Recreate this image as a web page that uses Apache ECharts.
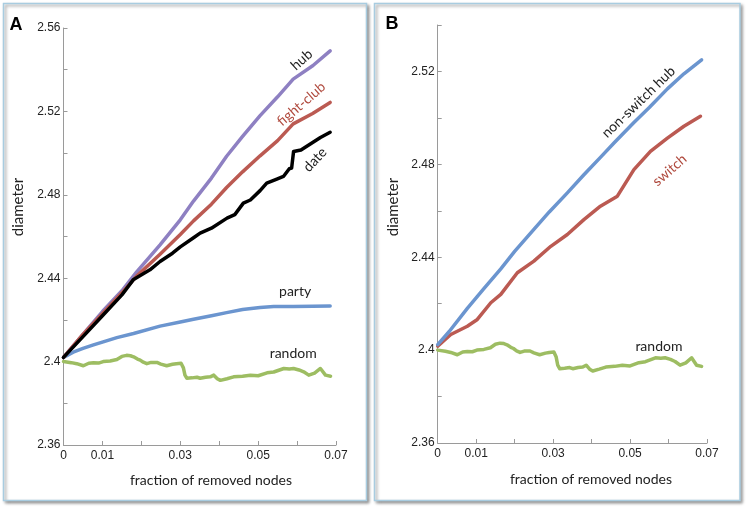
<!DOCTYPE html>
<html>
<head>
<meta charset="utf-8">
<script src="https://cdn.jsdelivr.net/npm/echarts@6/dist/echarts.min.js"></script>
<style>
html,body{margin:0;padding:0;background:#fff;}
#c{width:747px;height:510px;}
</style>
</head>
<body>
<div id="c"></div>
<script>
// ---- Panel A data: [fraction of removed nodes, diameter] ----
const hubA = [[0,2.402],[0.005,2.413],[0.01,2.424],[0.015,2.434],[0.0188,2.443],[0.0248,2.456],[0.03,2.468],[0.0334,2.477],[0.038,2.488],[0.0419,2.4985],[0.046,2.508],[0.0505,2.518],[0.055,2.527],[0.059,2.5355],[0.0641,2.542],[0.0685,2.549]];
const fightClubA = [[0,2.402],[0.005,2.413],[0.01,2.423],[0.015,2.433],[0.0188,2.441],[0.0248,2.4515],[0.03,2.461],[0.0334,2.4675],[0.038,2.4755],[0.0419,2.4835],[0.046,2.491],[0.0505,2.4987],[0.055,2.506],[0.059,2.514],[0.064,2.519],[0.0685,2.5243]];
const dateA = [[0,2.402],[0.005,2.412],[0.01,2.422],[0.015,2.432],[0.0179,2.4392],[0.0222,2.444],[0.0248,2.448],[0.028,2.452],[0.03,2.455],[0.0335,2.4595],[0.0351,2.4616],[0.038,2.464],[0.042,2.4688],[0.044,2.4705],[0.0462,2.476],[0.048,2.4775],[0.0505,2.482],[0.0522,2.4856],[0.0548,2.4875],[0.0565,2.4888],[0.058,2.4925],[0.0586,2.4928],[0.0591,2.5008],[0.061,2.5015],[0.0635,2.5045],[0.066,2.5075],[0.0685,2.51]];
const partyA = [[0,2.402],[0.0025,2.4045],[0.005,2.4063],[0.0077,2.408],[0.0102,2.4095],[0.0137,2.4115],[0.018,2.4135],[0.0248,2.417],[0.03,2.419],[0.0334,2.4203],[0.038,2.422],[0.0419,2.4235],[0.046,2.425],[0.0505,2.426],[0.054,2.4264],[0.059,2.4264],[0.064,2.4266],[0.0685,2.4267]];
const randomA = [[0,2.4],[0.002,2.3995],[0.0034,2.399],[0.0051,2.398],[0.0065,2.3992],[0.0077,2.3994],[0.009,2.3993],[0.0102,2.4],[0.012,2.4003],[0.0137,2.401],[0.015,2.4025],[0.0162,2.403],[0.0172,2.4028],[0.018,2.4023],[0.019,2.4012],[0.0197,2.4007],[0.0205,2.3997],[0.0214,2.399],[0.0225,2.3996],[0.024,2.3996],[0.025,2.3988],[0.0265,2.398],[0.028,2.3987],[0.029,2.399],[0.0302,2.3992],[0.0308,2.397],[0.0312,2.3935],[0.0317,2.392],[0.033,2.3922],[0.0343,2.3925],[0.0351,2.392],[0.0365,2.3925],[0.0377,2.3927],[0.0386,2.3935],[0.0395,2.3918],[0.0403,2.391],[0.042,2.3918],[0.0437,2.3927],[0.046,2.393],[0.048,2.3935],[0.05,2.3932],[0.0523,2.3946],[0.054,2.395],[0.0566,2.3967],[0.058,2.3965],[0.0591,2.3967],[0.0605,2.396],[0.0617,2.3951],[0.063,2.3935],[0.0645,2.3945],[0.066,2.3967],[0.0673,2.3935],[0.0686,2.393]];

// ---- Panel B data ----
const nonSwitchHubB = [[0,2.4024],[0.003,2.408],[0.0077,2.418],[0.012,2.4265],[0.0164,2.435],[0.02,2.4425],[0.025,2.452],[0.029,2.4595],[0.0337,2.4677],[0.038,2.4755],[0.0423,2.483],[0.046,2.4895],[0.051,2.498],[0.055,2.5045],[0.0597,2.5125],[0.064,2.519],[0.0686,2.525]];
const switchB = [[0,2.4017],[0.0034,2.4067],[0.0077,2.4103],[0.0103,2.4132],[0.0138,2.4204],[0.0164,2.424],[0.0207,2.4333],[0.025,2.4383],[0.0294,2.4447],[0.0337,2.4498],[0.038,2.4562],[0.0423,2.462],[0.0467,2.4663],[0.051,2.4777],[0.0553,2.4856],[0.0597,2.4913],[0.064,2.4964],[0.0683,2.5007]];
const randomB = randomA;

// ---- Axis ticks ----
const xLabeledTicks = [0, 1, 3, 5, 7];           // in hundredths
const yLabelStep = 4;                              // labelled every 0.04 from 2.36
const yMinA = 2.36, yMaxA = 2.56, yMinB = 2.36, yMaxB = 2.54;
const xMax = 0.07;

// ---- Annotations [grid, text, x, y, rotationDeg, color] ----
const notes = [
  [0, 'hub',          0.0612, 2.5448, 42, '#222'],
  [0, 'fight-club',   0.0611, 2.5235, 41, '#b04a3e'],
  [0, 'date',         0.0646, 2.4968, 47, '#222'],
  [0, 'party',        0.0595, 2.4336, 0,  '#222'],
  [0, 'random',       0.059,  2.404,  0,  '#222'],
  [1, 'non-switch hub', 0.0522, 2.5068, 44, '#222'],
  [1, 'switch',       0.0603, 2.4775, 41, '#b04a3e'],
  [1, 'random',       0.0575, 2.4017, 0,  '#222']
];

const C = {hub:'#8e80c2', fight:'#bb5a52', date:'#000000', party:'#6b95cf', random:'#9dbd62'};
const axisGray = '#9a9a9a';
const tickFont = {fontFamily:'Liberation Sans', fontSize:12, color:'#222'};

function xAxisCfg(gi){
  return {
    type:'value', gridIndex:gi, min:0, max:xMax, interval:0.01,
    axisLine:{show:true, onZero:false, lineStyle:{color:axisGray, width:1}},
    axisTick:{show:true, inside:true, length:4, lineStyle:{color:axisGray}},
    splitLine:{show:false},
    axisLabel:Object.assign({margin:5, showMinLabel:true, showMaxLabel:true,
      formatter:function(v){const k=Math.round(v*100); if(xLabeledTicks.indexOf(k)<0) return ''; return k===0?'0':(k/100).toFixed(2);}}, tickFont)
  };
}
function yAxisCfg(gi, mn, mx){
  return {
    type:'value', gridIndex:gi, min:mn, max:mx, interval:0.02,
    axisLine:{show:true, onZero:false, lineStyle:{color:axisGray, width:1}},
    axisTick:{show:true, inside:true, length:4, lineStyle:{color:axisGray}},
    splitLine:{show:false},
    axisLabel:Object.assign({margin:3, showMinLabel:true, showMaxLabel:true,
      formatter:function(v){const k=Math.round(v*100); if((k-236)%yLabelStep!==0) return ''; return String(parseFloat((k/100).toFixed(2)));}}, tickFont)
  };
}
function line(data, color, xi, yi, z){
  return {type:'line', data:data, xAxisIndex:xi, yAxisIndex:yi, showSymbol:false, symbol:'none',
    lineStyle:{color:color, width:3.5, cap:'round', join:'round'}, z:z||2, animation:false, silent:true};
}

const chart = echarts.init(document.getElementById('c'), null, {renderer:'canvas'});
const labelFont = 'Lato';

const frames = [
  {type:'rect', shape:{x:3.5, y:3.5, width:363, height:497}, style:{fill:'#fff', stroke:'#a8cce0', lineWidth:1.5, shadowBlur:3, shadowOffsetX:2, shadowOffsetY:2, shadowColor:'rgba(0,0,0,0.4)'}, z:-10, silent:true},
  {type:'rect', shape:{x:374.5, y:3.5, width:365.5, height:497}, style:{fill:'#fff', stroke:'#a8cce0', lineWidth:1.5, shadowBlur:3, shadowOffsetX:2, shadowOffsetY:2, shadowColor:'rgba(0,0,0,0.4)'}, z:-10, silent:true},
  {type:'text', x:16, y:25, style:{text:'A', font:'bold 18px "Liberation Sans"', fill:'#000', align:'center', verticalAlign:'middle'}, z:5},
  {type:'text', x:392, y:24.5, style:{text:'B', font:'bold 18px "Liberation Sans"', fill:'#000', align:'center', verticalAlign:'middle'}, z:5},
  {type:'text', x:18, y:207, rotation:Math.PI/2, style:{text:'diameter', font:'15px '+labelFont, fill:'#222', align:'center', verticalAlign:'middle'}, z:5},
  {type:'text', x:393, y:207, rotation:Math.PI/2, style:{text:'diameter', font:'15px '+labelFont, fill:'#222', align:'center', verticalAlign:'middle'}, z:5},
  {type:'text', x:211, y:480, style:{text:'fraction of removed nodes', font:'14px '+labelFont, fill:'#222', align:'center', verticalAlign:'middle'}, z:5},
  {type:'text', x:591, y:479, style:{text:'fraction of removed nodes', font:'14px '+labelFont, fill:'#222', align:'center', verticalAlign:'middle'}, z:5}
];

chart.setOption({
  animation:false,
  backgroundColor:'#ffffff',
  grid:[
    {left:63.5, top:28, width:272.5, height:417, containLabel:false},
    {left:437.7, top:25, width:269.3, height:418, containLabel:false}
  ],
  xAxis:[xAxisCfg(0), xAxisCfg(1)],
  yAxis:[yAxisCfg(0, yMinA, yMaxA), yAxisCfg(1, yMinB, yMaxB)],
  series:[
    line(randomA, C.random, 0, 0, 2),
    line(partyA, C.party, 0, 0, 3),
    line(hubA, C.hub, 0, 0, 3),
    line(fightClubA, C.fight, 0, 0, 4),
    line(dateA, C.date, 0, 0, 5),
    line(randomB, C.random, 1, 1, 2),
    line(switchB, C.fight, 1, 1, 3),
    line(nonSwitchHubB, C.party, 1, 1, 4)
  ],
  graphic:frames
});

const noteEls = notes.map(function(n){
  const p = chart.convertToPixel({gridIndex:n[0]}, [n[2], n[3]]);
  return {type:'text', x:p[0], y:p[1], rotation:n[4]*Math.PI/180,
    style:{text:n[1], font:'14px '+labelFont, fill:n[5], align:'center', verticalAlign:'middle'}, z:6, silent:true};
});
chart.setOption({graphic:frames.concat(noteEls)}, {replaceMerge:['graphic']});
</script>
</body>
</html>
